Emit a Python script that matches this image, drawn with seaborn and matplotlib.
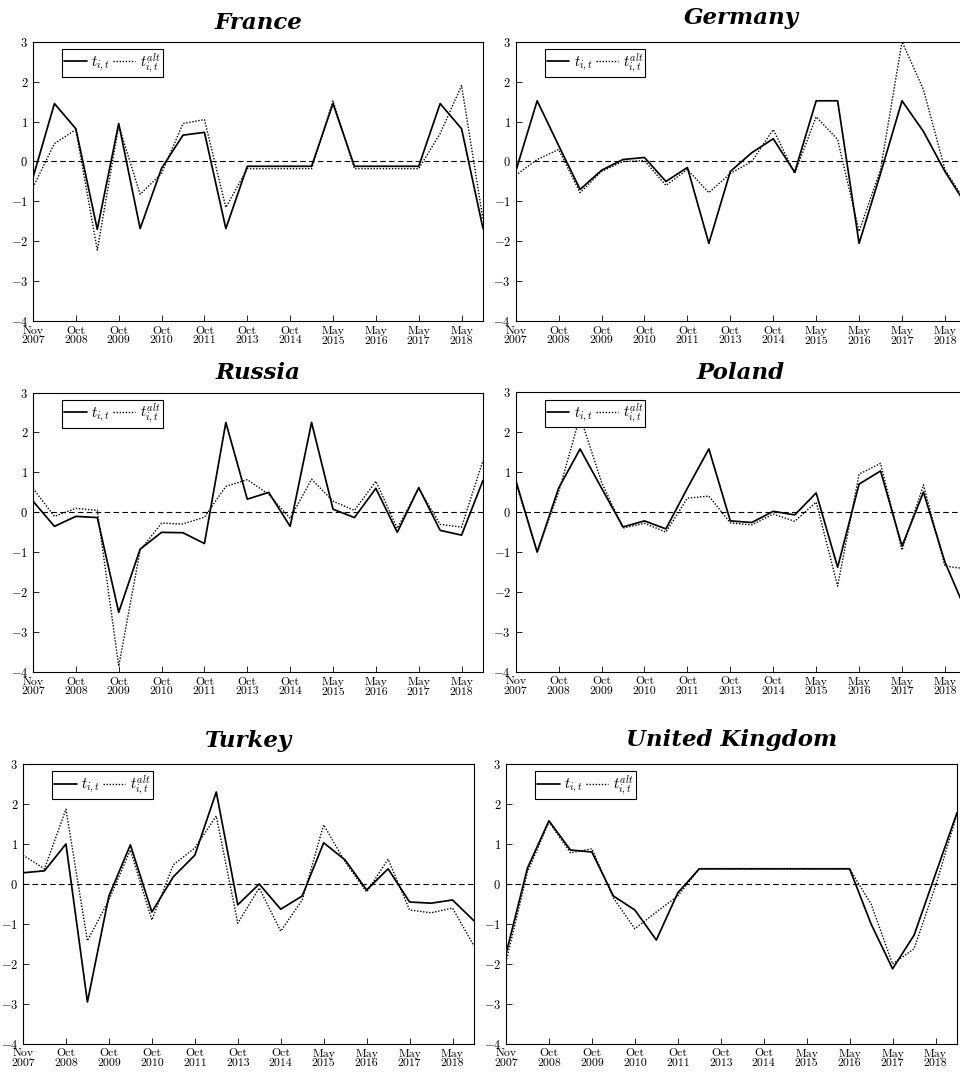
import numpy as np
import matplotlib
matplotlib.use("Agg")
import matplotlib.pyplot as plt
import seaborn as sns

# tick labels (every second observation is labelled)
tick_labels = ["Nov\n2007", "Oct\n2008", "Oct\n2009", "Oct\n2010", "Oct\n2011", "Oct\n2013",
               "Oct\n2014", "May\n2015", "May\n2016", "May\n2017", "May\n2018"]

france_t = [-0.4, 1.45, 0.82, -1.7, 0.95, -1.68, -0.17, 0.66, 0.73, -1.68, -0.12,
            -0.12, -0.12, -0.12, 1.45, -0.12, -0.12, -0.12, -0.12, 1.45, 0.82, -1.68]
france_alt = [-0.65, 0.45, 0.8, -2.22, 0.9, -0.82, -0.3, 0.95, 1.05, -1.15, -0.18,
              -0.18, -0.18, -0.18, 1.52, -0.18, -0.18, -0.18, -0.18, 0.7, 1.9, -1.45]

germany_t = [-0.25, 1.52, 0.4, -0.7, -0.22, 0.05, 0.1, -0.5, -0.15, -2.05, -0.25,
             0.22, 0.57, -0.27, 1.52, 1.52, -2.05, -0.3, 1.52, 0.75, -0.25, -1.1]
germany_alt = [-0.35, 0.05, 0.3, -0.78, -0.25, 0.0, 0.02, -0.6, -0.2, -0.78, -0.3,
               0.0, 0.8, -0.3, 1.12, 0.55, -1.75, -0.2, 3.0, 1.8, -0.2, -1.05]

russia_t = [0.28, -0.35, -0.1, -0.13, -2.5, -0.92, -0.5, -0.51, -0.78, 2.25, 0.33,
            0.5, -0.35, 2.25, 0.08, -0.13, 0.6, -0.5, 0.62, -0.45, -0.57, 0.8]
russia_alt = [0.6, -0.1, 0.1, 0.05, -3.85, -0.95, -0.27, -0.29, -0.12, 0.65, 0.82,
              0.45, -0.15, 0.83, 0.28, 0.05, 0.78, -0.4, 0.6, -0.3, -0.37, 1.3]

poland_t = [0.8, -1.0, 0.6, 1.58, 0.6, -0.37, -0.22, -0.42, 0.6, 1.58, -0.22,
            -0.26, 0.02, -0.07, 0.48, -1.38, 0.7, 1.03, -0.85, 0.5, -1.25, -2.5]
poland_alt = [0.75, -1.0, 0.5, 2.4, 0.75, -0.4, -0.28, -0.5, 0.35, 0.4, -0.27,
              -0.32, -0.05, -0.23, 0.25, -1.85, 0.95, 1.22, -0.95, 0.68, -1.35, -1.42]

turkey_t = [0.28, 0.33, 1.0, -2.95, -0.3, 0.98, -0.7, 0.18, 0.72, 2.3, -0.52,
            0.0, -0.63, -0.3, 1.03, 0.6, -0.15, 0.38, -0.45, -0.48, -0.4, -0.92]
turkey_alt = [0.72, 0.38, 1.87, -1.42, -0.4, 0.85, -0.9, 0.48, 0.9, 1.7, -0.98,
              -0.1, -1.18, -0.4, 1.48, 0.55, -0.2, 0.62, -0.65, -0.72, -0.6, -1.55]

uk_t = [-1.75, 0.4, 1.58, 0.85, 0.8, -0.3, -0.65, -1.4, -0.22, 0.38, 0.38,
        0.38, 0.38, 0.38, 0.38, 0.38, 0.38, -1.0, -2.12, -1.28, 0.25, 1.78]
uk_alt = [-1.95, 0.3, 1.55, 0.78, 0.88, -0.35, -1.12, -0.7, -0.3, 0.38, 0.38,
          0.38, 0.38, 0.38, 0.38, 0.38, 0.38, -0.5, -2.0, -1.62, -0.05, 1.75]

countries = ["France", "Germany", "Russia", "Poland", "Turkey", "United Kingdom"]
series_t = [france_t, germany_t, russia_t, poland_t, turkey_t, uk_t]
series_alt = [france_alt, germany_alt, russia_alt, poland_alt, turkey_alt, uk_alt]
y_ticks = [-4, -3, -2, -1, 0, 1, 2, 3]

sns.set_style("white")
plt.rcParams["font.family"] = ["cmr10", "DejaVu Serif"]
plt.rcParams["mathtext.fontset"] = "cm"
plt.rcParams["axes.formatter.use_mathtext"] = True
plt.rcParams["text.color"] = "black"

W, H = 960, 1077
# axes boxes in pixels: left, top, width, height
boxes = [(33, 41.7, 450, 279.5), (515.7, 41.7, 450.7, 279.5),
         (33, 392.5, 450, 279.7), (515.7, 392.2, 450.7, 279.8),
         (23, 764, 451, 280), (506, 764, 451, 280)]
title_pads = [9.5, 13, 10, 9.5, 12.5, 13]

fig = plt.figure(figsize=(W / 100, H / 100), dpi=100)
x = np.arange(len(france_t))

for name, st, sa, box, tp in zip(countries, series_t, series_alt, boxes, title_pads):
    l, t, w, h = box
    ax = fig.add_axes([l / W, 1 - (t + h) / H, w / W, h / H])
    ax.axhline(0, color="black", lw=0.8, linestyle=(0, (5, 3)), zorder=1)
    sns.lineplot(x=x, y=st, ax=ax, color="black", lw=1.25, label=r"$t_{i,t}$", zorder=3)
    sns.lineplot(x=x, y=sa, ax=ax, color="black", lw=1.0, linestyle=(0, (1, 1.2)),
                 label=r"$t_{i,t}^{alt}$", zorder=2)
    ax.set_xlim(0, len(x) - 1)
    ax.set_ylim(-4, 3)
    ax.set_xticks(x[::2])
    ax.set_xticklabels(tick_labels, fontsize=8.5, linespacing=1.0)
    ax.set_yticks(y_ticks)
    ax.set_yticklabels([f"${v}$" for v in y_ticks], fontsize=9)
    ax.tick_params(direction="in", length=4, width=0.6, pad=3.5, top=False, right=False,
                   left=True, bottom=True, colors="black", labelcolor="black")
    for sp in ax.spines.values():
        sp.set_color("black")
        sp.set_linewidth(0.8)
    ax.set_title(name, fontsize=16.5, fontweight="bold", fontstyle="italic",
                 family="DejaVu Serif", color="black", pad=tp)
    leg = ax.legend(loc="upper left", bbox_to_anchor=(29 / w, 1 - 7.3 / h), borderaxespad=0,
                    ncol=2, fontsize=10.5, frameon=True, fancybox=False, framealpha=1,
                    edgecolor="black", handlelength=1.55, handletextpad=0.3,
                    columnspacing=0.2, borderpad=0.15)
    leg.get_frame().set_linewidth(0.8)
    leg.set_zorder(5)

fig.savefig("out.png", dpi=100)
